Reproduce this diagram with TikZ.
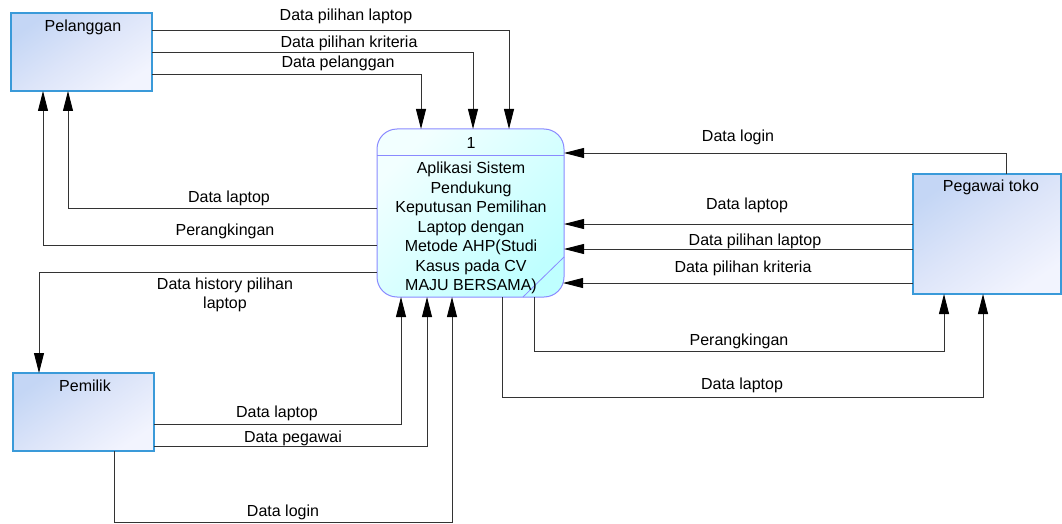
\documentclass[tikz,border=0pt]{standalone}
\usepackage{fontspec}
\setmainfont{Liberation Sans}
\usetikzlibrary{arrows.meta,calc}
\definecolor{entborder}{HTML}{3A9AD9}
\definecolor{enttop}{HTML}{C4D6F5}
\definecolor{entmid}{HTML}{DDE5F9}
\definecolor{entbot}{HTML}{F2F4FE}
\definecolor{procborder}{HTML}{8A8AFF}
\definecolor{proctop}{HTML}{F2FFFF}
\definecolor{procbot}{HTML}{BFFFFF}
\definecolor{flowline}{HTML}{333333}

\begin{document}
\begin{tikzpicture}[x=1pt,y=-1pt,
  every node/.style={font=\fontsize{16}{19.5}\selectfont, inner sep=0pt, outer sep=0pt},
  entity/.style={draw=entborder, line width=1.2pt, top color=enttop, bottom color=entbot, middle color=entmid, shading angle=35, anchor=north west},
  process/.style={draw=procborder, line width=1pt, rounded corners=20pt, top color=proctop, bottom color=procbot, shading angle=45, anchor=north west},
  flow/.style={draw=flowline, line width=0.9pt, -{Triangle[length=20pt,width=10pt,color=black]}},
  lbl/.style={text=black}]

\useasboundingbox (0,0) rectangle (1062,524);
\fill[white] (0,0) rectangle (1062,524);

% external entities
\node[entity, minimum width=141pt, minimum height=78pt] (pel) at (11,13) {};
\node[lbl] (pelT) at (83,27) {Pelanggan};
\node[entity, minimum width=148pt, minimum height=120pt] (peg) at (913,174) {};
\node[lbl] (pegT) at (991,187) {Pegawai toko};
\node[entity, minimum width=141pt, minimum height=78pt] (pem) at (13,373) {};
\node[lbl] (pemT) at (85,386) {Pemilik};

% process
\node[process, minimum width=187pt, minimum height=168pt] (proc) at (377,129) {};
\draw[procborder, line width=1pt] ($(proc.north west)+(0,26)$) -- ($(proc.north east)+(0,26)$);
\draw[procborder, line width=0.8pt] ($(proc.south east)+(0,-40)$) -- ($(proc.south east)+(-41,0)$);
\node[lbl] (procN) at (471,143) {1};
\node[lbl, align=center] (procT) at (471,228) {Aplikasi Sistem\\Pendukung\\Keputusan Pemilihan\\Laptop dengan\\Metode AHP(Studi\\Kasus pada CV\\MAJU BERSAMA)};

% Pelanggan -> process
\draw[flow] ($(pel.north east)+(0,17.7)$) -| ($(proc.north west)+(132,0)$);
\node[lbl] (l1) at (346,16) {Data pilihan laptop};
\draw[flow] ($(pel.north east)+(0,39)$) -| ($(proc.north west)+(96,0)$);
\node[lbl] (l2) at (349,43) {Data pilihan kriteria};
\draw[flow] ($(pel.north east)+(0,61)$) -| ($(proc.north west)+(44,0)$);
\node[lbl] (l3) at (338,63) {Data pelanggan};

% process -> Pelanggan
\draw[flow] ($(proc.north west)+(0,79)$) -| ($(pel.south west)+(57,0)$);
\node[lbl] (l4) at (229,198) {Data laptop};
\draw[flow] ($(proc.north west)+(0,116)$) -| ($(pel.south west)+(32,0)$);
\node[lbl] (l5) at (225,231) {Perangkingan};

% process -> Pemilik
\draw[flow] ($(proc.north west)+(0,143)$) -| ($(pem.north west)+(26,0)$);
\node[lbl, align=center] (l6) at (225,295) {Data history pilihan\\laptop};

% Pemilik -> process
\draw[flow] ($(pem.north east)+(0,51)$) -| ($(proc.south west)+(24,0)$);
\node[lbl] (l7) at (277,413) {Data laptop};
\draw[flow] ($(pem.north east)+(0,73)$) -| ($(proc.south west)+(50,0)$);
\node[lbl] (l8) at (293,438) {Data pegawai};
\draw[flow] ($(pem.south west)+(101,0)$) -- +(0,71) -| ($(proc.south west)+(75,0)$);
\node[lbl] (l9) at (283,512) {Data login};

% Pegawai toko -> process
\draw[flow] ($(peg.north west)+(93,0)$) |- ($(proc.north east)+(0,24)$);
\node[lbl] (l10) at (738,137) {Data login};
\draw[flow] ($(peg.north west)+(0,50)$) -- ($(proc.north east)+(0,95)$);
\node[lbl] (l11) at (747,205) {Data laptop};
\draw[flow] ($(peg.north west)+(0,75)$) -- ($(proc.north east)+(0,120)$);
\node[lbl] (l12) at (755,241) {Data pilihan laptop};
\draw[flow] ($(peg.north west)+(0,109)$) -- ($(proc.north east)+(-1,154)$);
\node[lbl] (l13) at (743,268) {Data pilihan kriteria};

% process -> Pegawai toko
\draw[flow] ($(proc.south west)+(157,0)$) -- +(0,54) -| ($(peg.south west)+(31,0)$);
\node[lbl] (l14) at (739,341) {Perangkingan};
\draw[flow] ($(proc.south west)+(125,0)$) -- +(0,100) -| ($(peg.south west)+(70,0)$);
\node[lbl] (l15) at (742,385) {Data laptop};
\end{tikzpicture}
\end{document}
